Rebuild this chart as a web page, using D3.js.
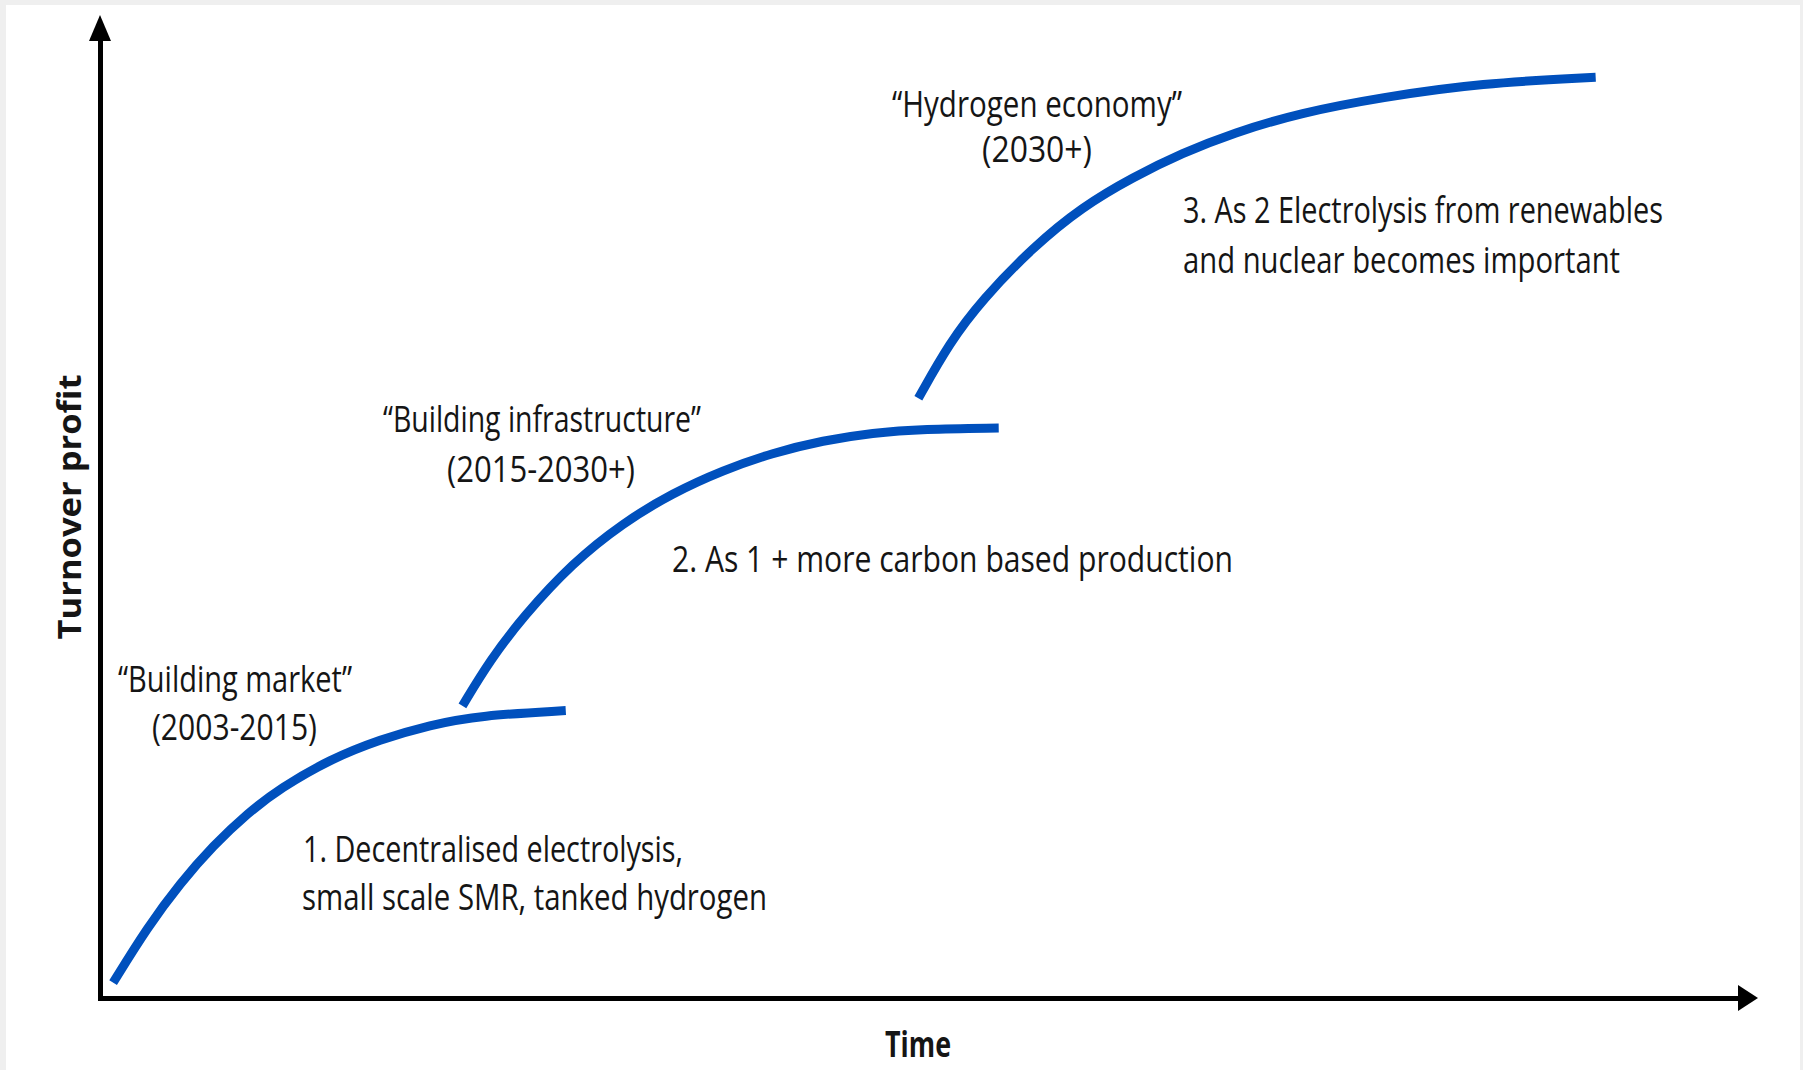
<!DOCTYPE html>
<html>
<head>
<meta charset="utf-8">
<script src="https://cdn.jsdelivr.net/npm/d3@7"></script>
<style>
  body { margin: 0; background: #efefef; }
  svg { display: block; }
</style>
</head>
<body>
<svg width="1803" height="1070"></svg>
<script>
// three growth phases (time 0-100, turnover 0-100)
const phase1Time   = [0.8, 2.9, 4.9, 6.9, 9.0, 11.0, 14.0, 17.1, 20.1, 23.2, 28.4];
const phase1Profit = [1.6, 7.4, 12.0, 15.9, 19.3, 21.9, 24.9, 27.0, 28.5, 29.5, 30.0];

const phase2Time   = [22.1, 23.8, 25.8, 28.8, 31.9, 34.9, 38.0, 41.0, 44.1, 47.1, 50.2, 54.8];
const phase2Profit = [30.5, 35.3, 39.8, 45.4, 49.6, 52.7, 55.1, 56.9, 58.2, 59.0, 59.4, 59.5];

const phase3Time   = [49.9, 51.8, 53.8, 56.9, 59.9, 63.0, 66.0, 69.1, 73.2, 78.1, 84.2, 91.2];
const phase3Profit = [62.6, 68.4, 72.9, 78.4, 82.6, 85.7, 88.2, 90.3, 92.4, 94.0, 95.5, 96.1];

const phaseNames   = ["\u201CBuilding market\u201D", "\u201CBuilding infrastructure\u201D", "\u201CHydrogen economy\u201D"];
const phasePeriods = ["(2003-2015)", "(2015-2030+)", "(2030+)"];
const phaseNotes   = [
    ["1. Decentralised electrolysis,", "small scale SMR, tanked hydrogen"],
    ["2. As 1 + more carbon based production"],
    ["3. As 2 Electrolysis from renewables", "and nuclear becomes important"]
];
const xTitle = "Time";
const yTitle = "Turnover profit";

// label layout (pixels): [x, baseline, width]
const nameBox   = [[118, 692, 234], [383, 432, 318], [892, 117, 290]];
const periodBox = [[152, 740, 165], [447, 482, 188], [982, 162, 110]];
const noteBox   = [[[303, 862, 380], [302, 910, 465]],
                   [[672, 572, 561]],
                   [[1183, 223, 480], [1183, 273, 437]]];

const blue = '#0050bd';
let svg = d3.select('svg');

svg.append('rect')
    .attr('x', 6).attr('y', 5)
    .attr('width', 1794).attr('height', 1065)
    .attr('fill', 'white');

let x = d3.scaleLinear().domain([0, 100]).range([100, 1740]);
let y = d3.scaleLinear().domain([0, 100]).range([998, 40]);

// axes without ticks
let xAxis = svg.append('g')
    .attr('transform', `translate(0, ${y(0)})`)
    .call(d3.axisBottom(x).tickValues([]).tickSizeOuter(0));
let yAxis = svg.append('g')
    .attr('transform', `translate(${x(0)}, 0)`)
    .call(d3.axisLeft(y).tickValues([]).tickSizeOuter(0));
svg.selectAll('.domain')
    .attr('stroke', 'black')
    .attr('stroke-width', 5)
    .attr('stroke-linecap', 'square');

// arrow heads
svg.append('path')
    .attr('d', `M${x(0) - 11},${y(100) + 1}L${x(0)},${y(100) - 25}L${x(0) + 11},${y(100) + 1}Z`)
    .attr('fill', 'black');
svg.append('path')
    .attr('d', `M${x(100) - 2},${y(0) - 13}L${x(100) + 18},${y(0)}L${x(100) - 2},${y(0) + 13}Z`)
    .attr('fill', 'black');

let phases = [
    phase1Time.map((t, i) => ({ t: t, p: phase1Profit[i] })),
    phase2Time.map((t, i) => ({ t: t, p: phase2Profit[i] })),
    phase3Time.map((t, i) => ({ t: t, p: phase3Profit[i] }))
];

let line = d3.line()
    .x(d => x(d.t))
    .y(d => y(d.p))
    .curve(d3.curveBasis);

svg.selectAll('.phase')
    .data(phases)
    .enter()
    .append('path')
    .attr('class', 'phase')
    .attr('d', line)
    .attr('fill', 'none')
    .attr('stroke', blue)
    .attr('stroke-width', 9)
    .attr('stroke-linecap', 'butt');

function label(txt, box, size, weight) {
    return svg.append('text')
        .attr('x', box[0])
        .attr('y', box[1])
        .attr('font-family', "'Open Sans', sans-serif")
        .attr('font-size', size)
        .attr('font-weight', weight || 400)
        .attr('fill', '#151515')
        .attr('textLength', box[2])
        .attr('lengthAdjust', 'spacingAndGlyphs')
        .text(txt);
}

phaseNames.forEach((n, i) => label(n, nameBox[i], 36));
phasePeriods.forEach((n, i) => label(n, periodBox[i], 36));
phaseNotes.forEach((lines, i) => {
    lines.forEach((l, j) => label(l, noteBox[i][j], 36));
});

label(xTitle, [885, 1057, 66], 36, 700);

svg.append('text')
    .attr('transform', 'translate(81, 507) rotate(-90)')
    .attr('text-anchor', 'middle')
    .attr('font-family', "'Open Sans', sans-serif")
    .attr('font-size', 32)
    .attr('font-weight', 700)
    .attr('fill', '#151515')
    .attr('textLength', 265)
    .attr('lengthAdjust', 'spacingAndGlyphs')
    .text(yTitle);
</script>
</body>
</html>
